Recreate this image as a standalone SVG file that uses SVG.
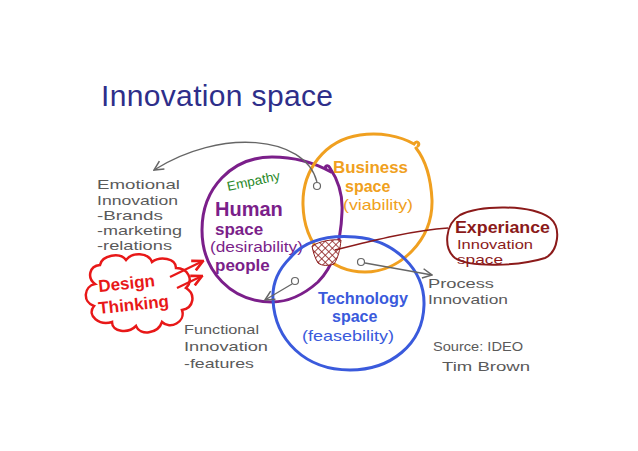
<svg xmlns="http://www.w3.org/2000/svg" width="638" height="451" viewBox="0 0 638 451">
<defs>
<style>
text{font-family:"Liberation Sans","Open Sans",sans-serif}
.g{fill:#5a5a5a;font-size:13px}
.circ{fill:none;stroke-width:3;stroke-linecap:round}
.con{fill:none;stroke:#666;stroke-width:1.3}
.dot{fill:#fff;stroke:#666;stroke-width:1.2}
</style>
<marker id="ag" viewBox="0 0 10 10" refX="9" refY="5" markerWidth="9" markerHeight="9" orient="auto"><path d="M1,1 L9,5 L1,9" fill="none" stroke="#666" stroke-width="1.3"/></marker>
<marker id="ar" viewBox="0 0 10 10" refX="9" refY="5" markerWidth="6" markerHeight="6" orient="auto"><path d="M1,1 L9,5 L1,9" fill="none" stroke="#e81818" stroke-width="2"/></marker>
<pattern id="hatch" width="5" height="5" patternUnits="userSpaceOnUse" patternTransform="rotate(45)"><rect width="5" height="5" fill="#fff"/><path d="M0,0 L0,5 M0,0 L5,0" stroke="#8b1a1a" stroke-width="1.6"/></pattern>
</defs>
<rect width="638" height="451" fill="#fff"/>
<text x="101" y="106" style="font-size:30px;fill:#2e2e8a" textLength="232">Innovation space</text>

<g id="human">
<path class="circ" stroke="#7b1f8a" d="M326,169 c-2,-3 2,-5 4,-1 C338,180 343,195 342,212 C341,240 335,265 318,282 C300,298 285,302 272,302 C232,302 202,272 202,230 C202,188 232,157 272,157 C295,157 315,163 331,172"/>
<text x="228" y="191" transform="rotate(-12 228 191)" style="font-size:13px;fill:#2a8a2a" textLength="54" lengthAdjust="spacingAndGlyphs">Empathy</text>
<text x="215" y="216" style="font-size:20px;fill:#7b1f8a;font-weight:bold">Human</text>
<text x="215" y="235" style="font-size:17px;fill:#7b1f8a;font-weight:bold">space</text>
<text x="210" y="252" style="font-size:14px;fill:#7b1f8a" textLength="93" lengthAdjust="spacingAndGlyphs">(desirability)</text>
<text x="215" y="271" style="font-size:17px;fill:#7b1f8a;font-weight:bold">people</text>
</g>

<g id="business">
<path class="circ" stroke="#f0a020" d="M418,146 c2,-3 -1,-6 -4,-2 C400,136 380,132 360,135 C325,140 302,170 303,205 C304,245 330,272 365,272 C400,272 433,240 432,200 C431,180 427,162 416,148"/>
<text x="333" y="173" style="font-size:17px;fill:#f0a020;font-weight:bold" textLength="75" lengthAdjust="spacingAndGlyphs">Business</text>
<text x="345" y="192" style="font-size:16px;fill:#f0a020;font-weight:bold">space</text>
<text x="343" y="210" style="font-size:15px;fill:#f0a020" textLength="70" lengthAdjust="spacingAndGlyphs">(viability)</text>
</g>

<g id="technology">
<path class="circ" stroke="#3a5adc" d="M290,258 C305,240 330,235 355,237 C395,240 425,270 424,305 C423,345 390,370 350,370 C305,370 275,340 273,300 C272,285 278,270 290,258"/>
<path d="M312,246 C320,241 332,239 341,240 C340,250 338,258 334,264 C328,266 322,266 318,263 C315,258 313,252 312,246 Z" fill="url(#hatch)" stroke="#8b1a1a" stroke-width="1"/>
<text x="318" y="304" style="font-size:17px;fill:#3a5adc;font-weight:bold" textLength="90" lengthAdjust="spacingAndGlyphs">Technology</text>
<text x="332" y="322" style="font-size:16px;fill:#3a5adc;font-weight:bold">space</text>
<text x="302" y="341" style="font-size:15px;fill:#3a5adc" textLength="92" lengthAdjust="spacingAndGlyphs">(feasebility)</text>
</g>

<g id="design-thinking">
<path d="M100,265 C102,255 120,252 126,260 C132,252 148,252 152,262 C160,256 176,258 176,268 C188,268 194,280 186,288 C196,294 194,308 182,310 C186,322 170,330 162,322 C158,334 140,336 136,326 C128,334 112,332 112,322 C100,326 86,316 94,306 C82,302 84,286 95,284 C87,278 89,266 100,265 Z" fill="none" stroke="#e81818" stroke-width="2.5"/>
<text x="99" y="292" transform="rotate(-6 99 292)" style="font-size:17px;fill:#e81818;font-weight:bold">Design</text>
<text x="99" y="314" transform="rotate(-6 99 314)" style="font-size:17px;fill:#e81818;font-weight:bold">Thinking</text>
<path d="M170,277 L203,261" fill="none" stroke="#e81818" stroke-width="2.2" marker-end="url(#ar)"/>
<path d="M177,288 L202,276" fill="none" stroke="#e81818" stroke-width="2.2" marker-end="url(#ar)"/>
</g>

<g id="experience">
<path d="M460,215 C480,205 530,204 550,218 C562,228 558,252 545,258 C520,266 470,268 455,258 C443,248 445,224 460,215 Z" fill="none" stroke="#8b1a1a" stroke-width="2"/>
<text x="455" y="233" style="font-size:16px;fill:#8b1a1a;font-weight:bold" textLength="95" lengthAdjust="spacingAndGlyphs">Experiance</text>
<text x="457" y="249" style="font-size:13px;fill:#8b1a1a" textLength="76" lengthAdjust="spacingAndGlyphs">Innovation</text>
<text x="457" y="264" style="font-size:13px;fill:#8b1a1a" textLength="46" lengthAdjust="spacingAndGlyphs">space</text>
</g>

<g id="emotional">
<text class="g" x="97" y="189" textLength="83" lengthAdjust="spacingAndGlyphs">Emotional</text>
<text class="g" x="97" y="205" textLength="81" lengthAdjust="spacingAndGlyphs">Innovation</text>
<text class="g" x="97" y="220" textLength="66" lengthAdjust="spacingAndGlyphs">-Brands</text>
<text class="g" x="97" y="235" textLength="85" lengthAdjust="spacingAndGlyphs">-marketing</text>
<text class="g" x="97" y="250" textLength="75" lengthAdjust="spacingAndGlyphs">-relations</text>
</g>

<g id="process">
<text class="g" x="428" y="288" textLength="66" lengthAdjust="spacingAndGlyphs">Process</text>
<text class="g" x="428" y="304" textLength="80" lengthAdjust="spacingAndGlyphs">Innovation</text>
</g>

<g id="functional">
<text class="g" x="184" y="334" textLength="75" lengthAdjust="spacingAndGlyphs">Functional</text>
<text class="g" x="184" y="351" textLength="84" lengthAdjust="spacingAndGlyphs">Innovation</text>
<text class="g" x="184" y="368" textLength="70" lengthAdjust="spacingAndGlyphs">-features</text>
</g>

<g id="source">
<text class="g" x="433" y="351" textLength="90" lengthAdjust="spacingAndGlyphs">Source: IDEO</text>
<text class="g" x="442" y="371" textLength="88" lengthAdjust="spacingAndGlyphs">Tim Brown</text>
</g>

<g id="connectors">
<circle class="dot" cx="317" cy="186" r="3.5"/>
<path class="con" d="M317,182 C305,135 220,128 154,170" marker-end="url(#ag)"/>
<circle class="dot" cx="361" cy="262" r="3.5"/>
<path class="con" d="M365,263 L432,275" marker-end="url(#ag)"/>
<circle class="dot" cx="295" cy="281" r="3.5"/>
<path class="con" d="M292,284 L265,300" marker-end="url(#ag)"/>
<path d="M335,250 C375,240 415,230 448,228" fill="none" stroke="#8b1a1a" stroke-width="1.5"/>
</g>
</svg>
